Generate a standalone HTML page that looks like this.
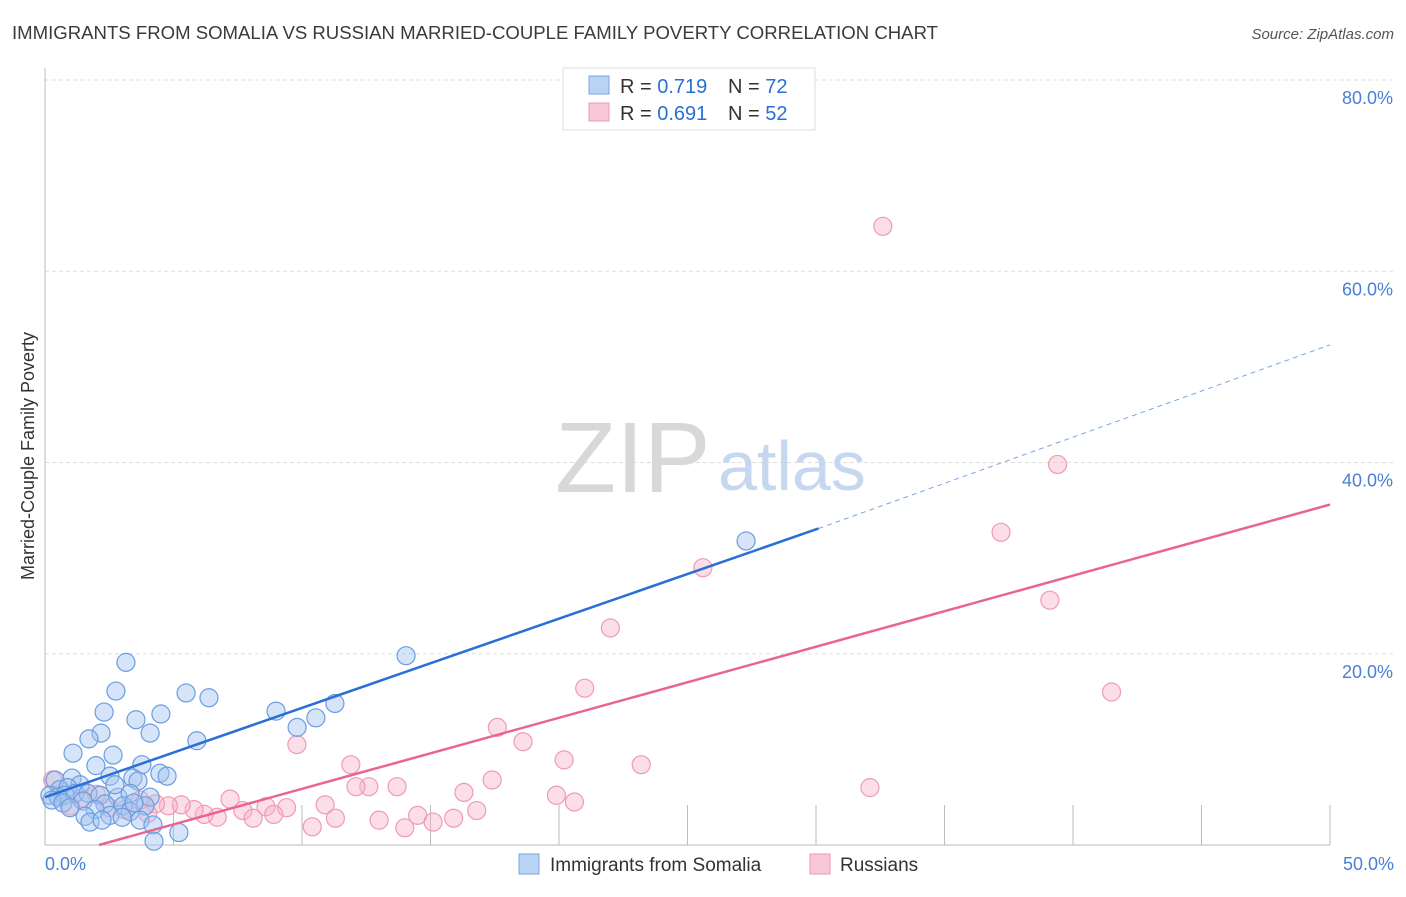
<!DOCTYPE html>
<html><head><meta charset="utf-8"><style>
body{margin:0;background:#fff;font-family:"Liberation Sans",sans-serif}
svg text{font-family:"Liberation Sans",sans-serif}
</style></head><body>
<svg width="1406" height="892" viewBox="0 0 1406 892">
<text x="12" y="39" font-size="18" fill="#3a3a3a" textLength="926" lengthAdjust="spacingAndGlyphs">IMMIGRANTS FROM SOMALIA VS RUSSIAN MARRIED-COUPLE FAMILY POVERTY CORRELATION CHART</text>
<text x="1394" y="39" font-size="15" fill="#555" font-style="italic" text-anchor="end">Source: ZipAtlas.com</text>
<g id="grid"></g>
<text x="555" y="492" font-size="100" fill="#d8d8d8" font-family="Liberation Serif">ZIP</text>
<text x="718" y="490" font-size="70" fill="#c5d8f0">atlas</text>
<line x1="45" y1="68" x2="45" y2="845" stroke="#bbb"/>
<line x1="45" y1="845" x2="1330" y2="845" stroke="#bbb"/>
<text transform="translate(34,456) rotate(-90)" font-size="18" fill="#333" text-anchor="middle">Married-Couple Family Poverty</text>
<text x="45" y="870" font-size="18" fill="#4a7fd4">0.0%</text>
<text x="1394" y="870" font-size="18" fill="#4a7fd4" text-anchor="end">50.0%</text>
<g id="pts"></g>
<g id="lines"></g>
<g>
<rect x="563" y="68" width="252" height="62" fill="#fff" stroke="#ddd"/>
<rect x="589" y="76" width="20" height="18" fill="#b9d3f5" stroke="#7aa6e0"/>
<text x="620" y="93" font-size="20" fill="#333">R = <tspan fill="#2a6fd6">0.719</tspan></text>
<text x="728" y="93" font-size="20" fill="#333">N = <tspan fill="#2a6fd6">72</tspan></text>
<rect x="589" y="103" width="20" height="18" fill="#f8c8d6" stroke="#ee9ab4"/>
<text x="620" y="120" font-size="20" fill="#333">R = <tspan fill="#2a6fd6">0.691</tspan></text>
<text x="728" y="120" font-size="20" fill="#333">N = <tspan fill="#2a6fd6">52</tspan></text>
</g>
<g>
<rect x="519" y="854" width="20" height="20" fill="#b9d3f5" stroke="#7aa6e0"/>
<text x="550" y="871" font-size="19" fill="#333">Immigrants from Somalia</text>
<rect x="810" y="854" width="20" height="20" fill="#f8c8d6" stroke="#ee9ab4"/>
<text x="840" y="871" font-size="19" fill="#333">Russians</text>
</g>
</svg>
<script>
const yTicks=[20,40,60,80];
const yTickLabels=["20.0%","40.0%","60.0%","80.0%"];
const xTicks=[5,10,15,20,25,30,35,40,45,50];
const blueX=[3.15,2.76,5.49,6.38,2.30,4.51,3.54,8.99,10.54,11.28,9.81,14.05,27.28,4.09,2.18,1.71,5.91,1.09,2.65,1.98,3.77,4.47,4.75,2.53,3.42,3.62,0.39,1.05,1.36,0.58,0.89,0.19,0.51,0.78,1.17,1.67,2.14,2.84,3.31,4.09,0.27,1.48,2.33,3.04,3.89,1.95,3.31,2.53,1.56,3.00,3.70,1.75,4.20,5.21,4.24,0.70,0.97,2.22,3.46,2.72];
const blueY=[19.1,16.1,15.9,15.4,13.9,13.7,13.1,14.0,13.3,14.8,12.3,19.8,31.8,11.7,11.7,11.1,10.9,9.6,9.4,8.3,8.4,7.5,7.2,7.2,7.0,6.7,6.8,7.0,6.3,5.8,6.0,5.2,5.0,5.2,5.4,5.4,5.2,5.0,5.4,5.0,4.7,4.6,4.3,4.1,4.1,3.7,3.5,3.1,3.0,2.9,2.6,2.4,2.1,1.3,0.4,4.4,3.9,2.6,4.4,6.3];
const pinkX=[32.6,39.4,37.2,39.1,25.6,22.0,21.0,41.5,17.6,9.8,18.6,20.2,23.2,11.9,17.4,13.7,12.6,12.1,16.3,19.9,20.6,32.1,7.2,10.9,16.8,14.5,11.3,13.0,15.9,15.1,14.0,10.4,9.4,8.6,7.7,8.1,8.9,6.7,6.2,5.8,5.3,4.8,4.3,4.0,2.5,2.0,1.0,0.3,0.5,1.4,3.1,3.7];
const pinkY=[64.7,39.8,32.7,25.6,29.0,22.7,16.4,16.0,12.3,10.5,10.8,8.9,8.4,8.4,6.8,6.1,6.1,6.1,5.5,5.2,4.5,6.0,4.8,4.2,3.6,3.1,2.8,2.6,2.8,2.4,1.8,1.9,3.9,4.0,3.6,2.8,3.2,2.9,3.2,3.7,4.2,4.1,4.3,3.3,3.9,5.3,4.1,6.8,5.2,4.9,3.7,4.7];
const blueLine=[0,5.0,30.1,33.1,50,52.3];
const pinkLine=[2.1,0,50,35.6];
const NS="http://www.w3.org/2000/svg";
const sx=v=>45+v*25.7, sy=v=>845-v*9.5625;
function mk(tag,attrs,parent){const e=document.createElementNS(NS,tag);for(const k in attrs)e.setAttribute(k,attrs[k]);parent.appendChild(e);return e;}
const grid=document.getElementById('grid');
yTicks.forEach((t,i)=>{
 const l=mk('line',{x1:45,x2:1395,y1:sy(t),y2:sy(t),stroke:'#ddd','stroke-dasharray':'4,3'},grid);
 
 
 const tx=mk('text',{x:1393,y:sy(t)+24,'font-size':18,fill:'#4a7fd4','text-anchor':'end'},grid);
 tx.textContent=yTickLabels[i];
 
 
});
xTicks.forEach(t=>{
 const l=mk('line',{x1:sx(t),x2:sx(t),y1:805,y2:845,stroke:'#bbb'},grid);
 
 
});
const pts=document.getElementById('pts');
pinkX.forEach((x,i)=>{
 const c=mk('circle',{cx:sx(x),cy:sy(pinkY[i]),r:9,fill:'rgba(246,182,202,0.45)',stroke:'#f09ab5','stroke-width':1.2},pts);
 
 
});
blueX.forEach((x,i)=>{
 const c=mk('circle',{cx:sx(x),cy:sy(blueY[i]),r:9,fill:'rgba(161,196,240,0.45)',stroke:'#6a9de0','stroke-width':1.2},pts);
 
 
});
const lines=document.getElementById('lines');
const b1=mk('line',{x1:sx(blueLine[0]),y1:sy(blueLine[1]),x2:sx(blueLine[2]),y2:sy(blueLine[3]),stroke:'#2a6fd6','stroke-width':2.5},lines);


const b2=mk('line',{x1:sx(blueLine[2]),y1:sy(blueLine[3]),x2:sx(blueLine[4]),y2:sy(blueLine[5]),stroke:'#7aa6e0','stroke-width':1,'stroke-dasharray':'5,4'},lines);


const p1=mk('line',{x1:sx(pinkLine[0]),y1:sy(pinkLine[1]),x2:sx(pinkLine[2]),y2:sy(pinkLine[3]),stroke:'#e8658f','stroke-width':2.5},lines);


</script>
</body></html>
